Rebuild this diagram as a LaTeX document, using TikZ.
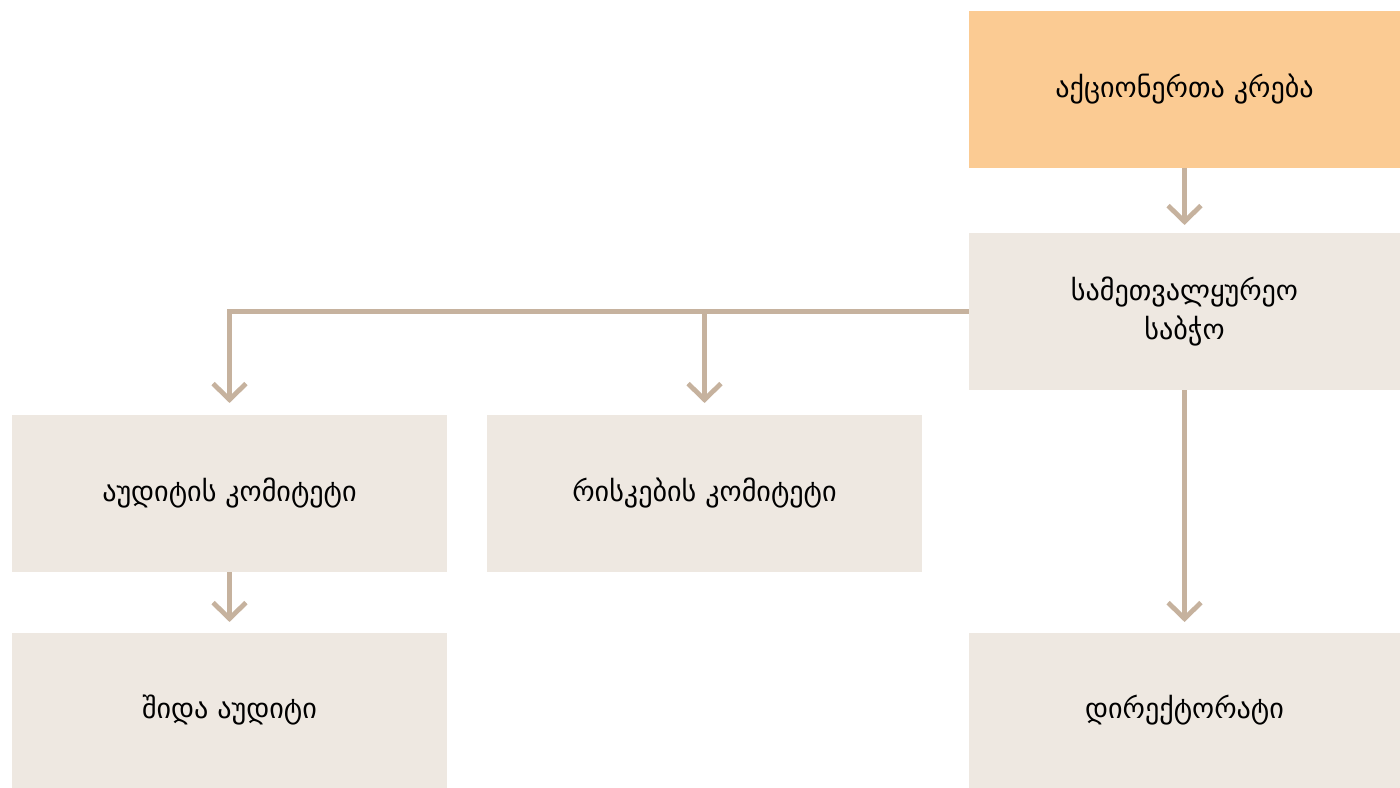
\documentclass[tikz,border=0pt]{standalone}
\usepackage{fontspec}
\newfontfamily\geofont{DejaVu Sans}
\usetikzlibrary{arrows.meta,positioning}

\definecolor{meetingfill}{RGB}{251,203,147}
\definecolor{bodyfill}{RGB}{238,232,225}
\definecolor{linkline}{RGB}{198,178,158}

\tikzset{
  unit/.style={fill=bodyfill,inner sep=0pt,outer sep=0pt,
    minimum width=10.85cm,minimum height=3.925cm,
    font=\geofont\fontsize{20}{28}\selectfont,align=center},
  link/.style={draw=linkline,line width=0.12cm,
    -{Straight Barb[length=0.4cm,width=0.82cm]}},
}

\begin{document}
\begin{tikzpicture}[x=0.025cm,y=-0.025cm]
  \useasboundingbox (0,0) rectangle (1400,788);
  % boxes
  \node[unit,fill=meetingfill,minimum width=10.775cm] (meeting) at (1184.5,89.5) {აქციონერთა კრება};
  \node[unit,minimum width=10.775cm] (board) at (1184.5,311.5) {სამეთვალყურეო\\საბჭო};
  \node[unit] (audit) at (229.5,493.5) {აუდიტის კომიტეტი};
  \node[unit] (risk) at (704.5,493.5) {რისკების კომიტეტი};
  \node[unit,minimum height=3.875cm] (internal) at (229.5,710.5) {შიდა აუდიტი};
  \node[unit,minimum width=10.775cm,minimum height=3.875cm] (directorate) at (1184.5,710.5) {დირექტორატი};
  % links
  \draw[link,shorten >=0.2cm] (meeting) -- (board);
  \draw[link,shorten >=0.3cm] (board.west) -| (audit.north);
  \draw[link,shorten >=0.3cm] (risk.north |- board.west) -- (risk.north);
  \draw[link,shorten >=0.275cm] (audit) -- (internal);
  \draw[link,shorten >=0.275cm] (board) -- (directorate);
\end{tikzpicture}
\end{document}
